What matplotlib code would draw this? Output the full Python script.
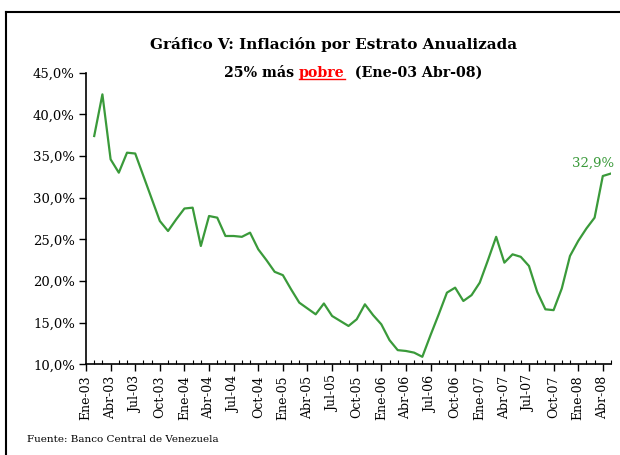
import matplotlib
matplotlib.use("Agg")
import matplotlib.pyplot as plt
from matplotlib.lines import Line2D

# monthly values, Ene-03 .. Abr-08 (64 months)
meses = ["Ene", "Feb", "Mar", "Abr", "May", "Jun", "Jul", "Ago", "Sep", "Oct", "Nov", "Dic"]
etiquetas = [f"{meses[i % 12]}-{3 + i // 12:02d}" for i in range(64)]
inflacion = [37.4, 42.4, 34.6, 33.0, 35.4, 35.3, 32.6, 29.9, 27.2, 26.0, 27.4, 28.7,
             28.8, 24.2, 27.8, 27.6, 25.4, 25.4, 25.3, 25.8, 23.8, 22.5, 21.1, 20.7,
             19.0, 17.4, 16.7, 16.0, 17.3, 15.8, 15.2, 14.6, 15.4, 17.2, 15.9, 14.8,
             12.9, 11.7, 11.6, 11.4, 10.9, 13.5, 16.0, 18.6, 19.2, 17.6, 18.3, 19.8,
             22.5, 25.3, 22.2, 23.2, 22.9, 21.8, 18.7, 16.6, 16.5, 19.1, 23.0, 24.8,
             26.3, 27.6, 32.6, 32.9]
y_ticks = [10, 15, 20, 25, 30, 35, 40, 45]

verde = "#3a9a3a"
fuente = "DejaVu Serif"

fig = plt.figure(figsize=(6.2, 4.55), dpi=100)
ax = fig.add_axes([86 / 620, 1 - 364.3 / 455, (611 - 86) / 620, (364.3 - 72.7) / 455])

x = list(range(len(inflacion)))
ax.plot(x, inflacion, color=verde, linewidth=1.6)
ax.set_xlim(-1, 63)
ax.set_ylim(10, 45)

# y axis
ax.set_yticks(y_ticks)
ax.set_yticklabels([f"{v:.1f}%".replace(".", ",") for v in y_ticks], family=fuente, fontsize=9.5)
ax.tick_params(axis="y", direction="out", length=5, width=1, pad=3)

# x axis: long ticks every 3 months, small inward ticks each month
major = [m for m in range(-1, 64, 3)]
ax.set_xticks(major)
ax.set_xticklabels([etiquetas[m + 1] for m in major], rotation=90, family=fuente, fontsize=9)
ax.set_xticks([i for i in range(-1, 64) if i not in major], minor=True)
ax.tick_params(axis="x", which="major", direction="out", length=5, width=1, pad=3)
ax.tick_params(axis="x", which="minor", direction="in", length=3, width=0.8)

for s in ["top", "right"]:
    ax.spines[s].set_visible(False)
for s in ["left", "bottom"]:
    ax.spines[s].set_linewidth(1.2)

ax.annotate("32,9%", xy=(63, 32.9), xytext=(-13, 3), textcoords="offset points",
            ha="center", va="bottom", color=verde, family=fuente, fontsize=9.5)

# title
fig.text(334 / 620, 1 - 45 / 455, "Gráfico V: Inflación por Estrato Anualizada",
         ha="center", va="center", fontsize=11, fontweight="bold", family=fuente)

partes = [("25% más ", "black"), ("pobre", "red"), ("  (Ene-03 Abr-08)", "black")]
fig.canvas.draw()
r = fig.canvas.get_renderer()
objs = []
for txt, col in partes:
    t = fig.text(0, 1 - 73 / 455, txt, ha="left", va="center", fontsize=10.2,
                 fontweight="bold", family=fuente, color=col)
    objs.append(t)
anchos = [t.get_window_extent(r).width for t in objs]
total = sum(anchos)
x0 = 353 - total / 2
for t, w in zip(objs, anchos):
    t.set_x(x0 / 620)
    x0 += w
bb = objs[1].get_window_extent(r)
fig.add_artist(Line2D([bb.x0 / 620, bb.x1 / 620], [(bb.y0 + 1) / 455] * 2, color="red", linewidth=1))

fig.text(27 / 620, 1 - 440 / 455, "Fuente: Banco Central de Venezuela",
         ha="left", va="center", fontsize=7.5, family=fuente)

# outer frame (left and top)
fig.add_artist(Line2D([6 / 620, 6 / 620], [0, 1 - 12 / 455], color="black", linewidth=1.5))
fig.add_artist(Line2D([6 / 620, 1], [1 - 12 / 455] * 2, color="black", linewidth=1.5))

fig.savefig("out.png", dpi=100)
